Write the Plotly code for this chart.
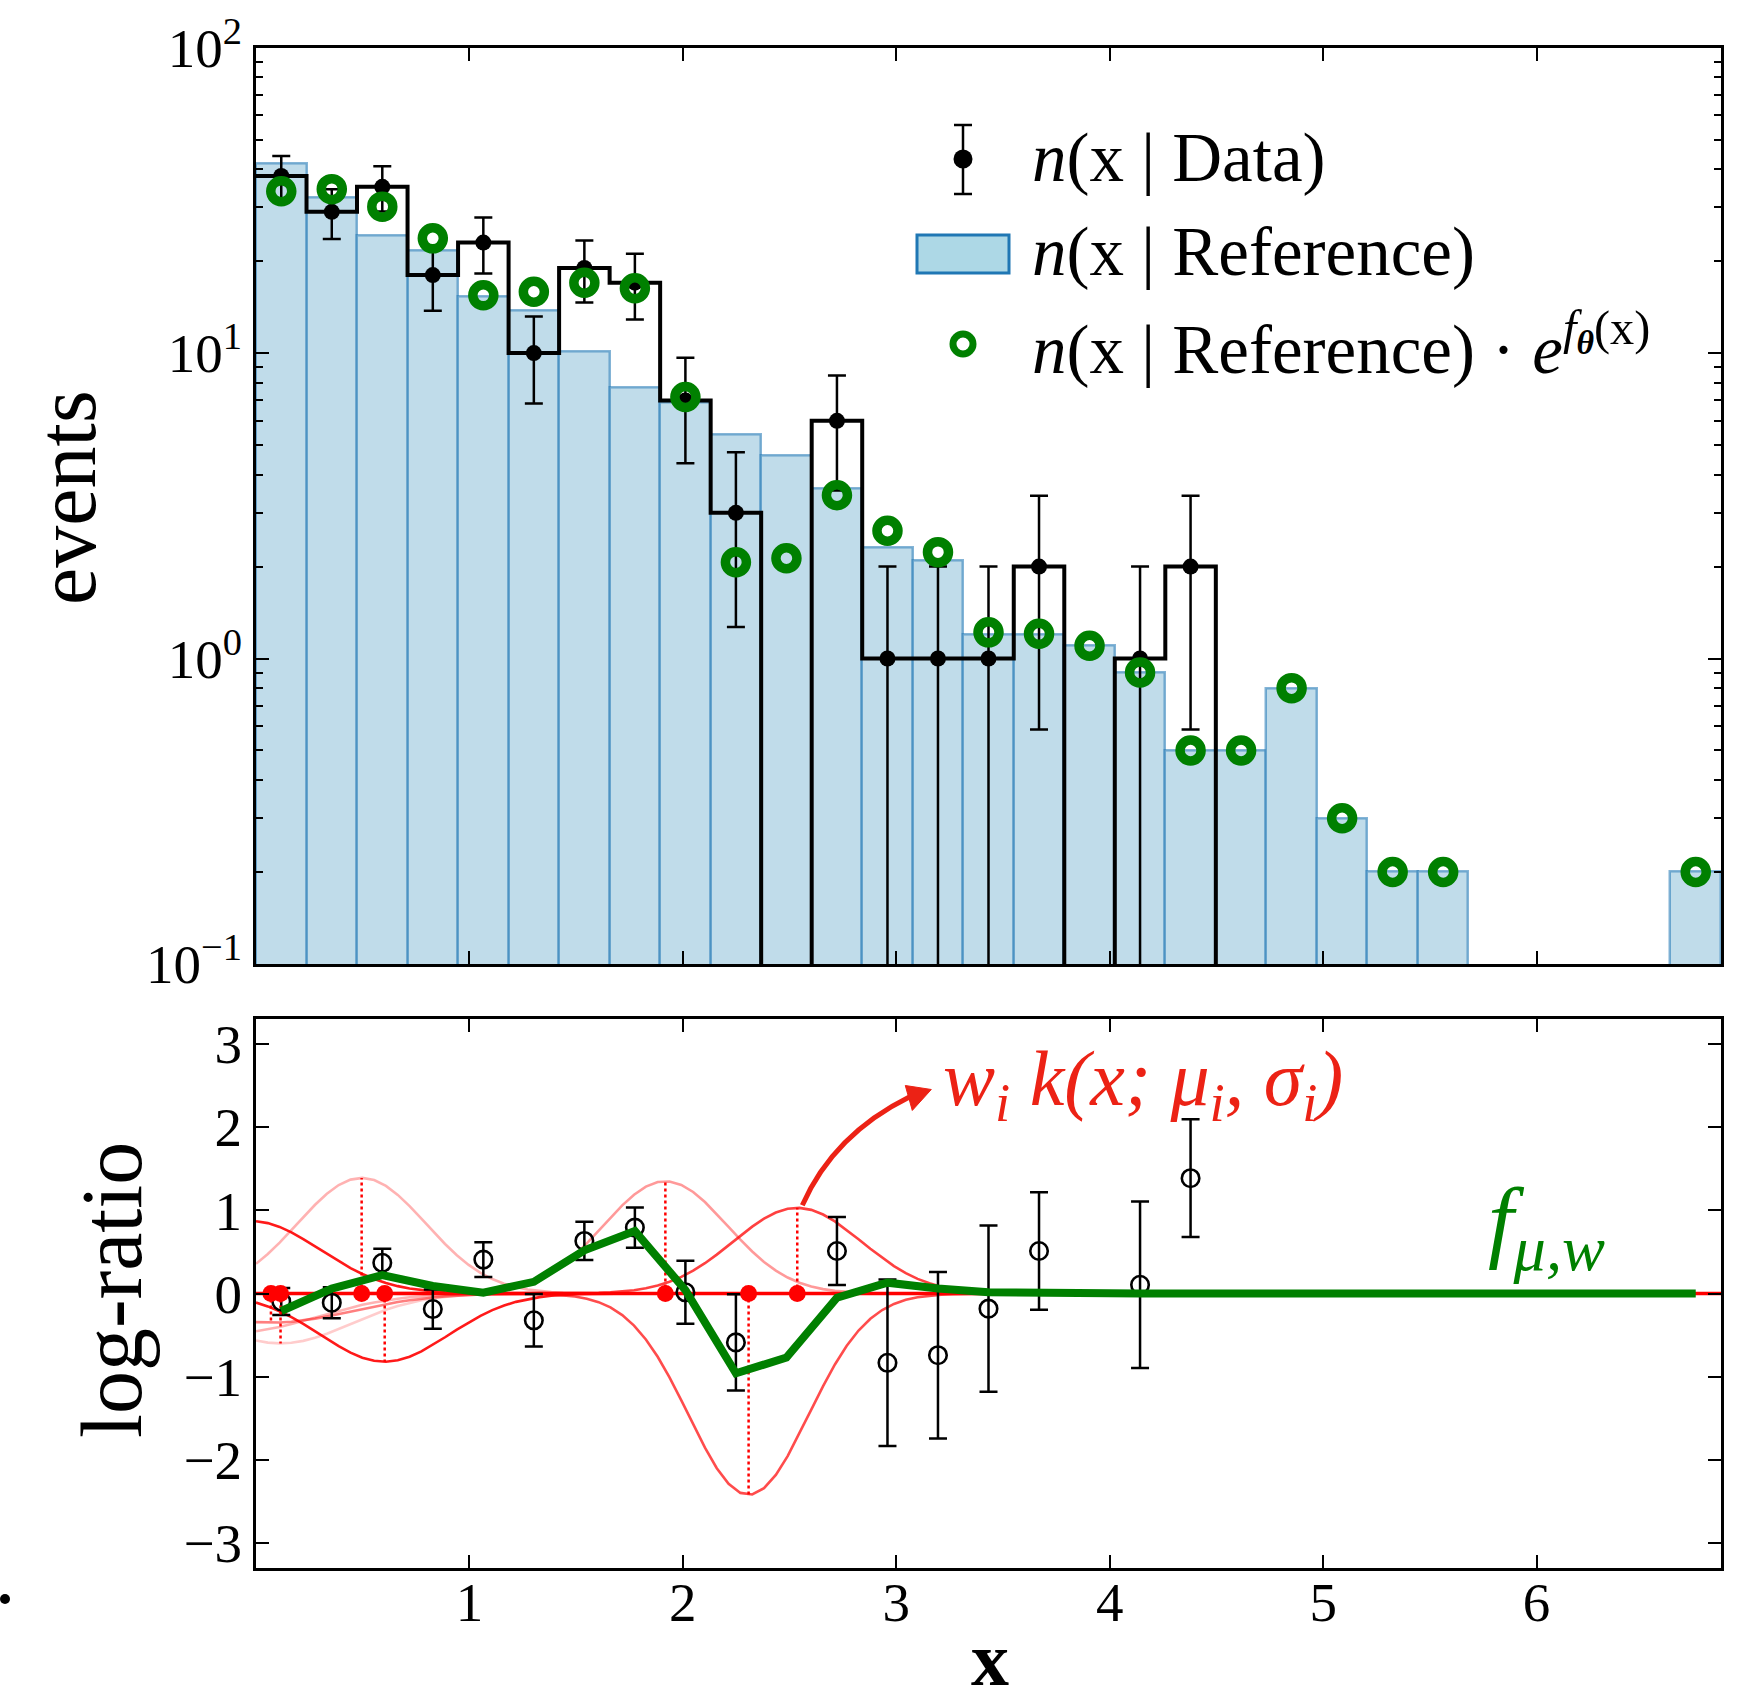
import numpy as np
import plotly.graph_objects as go

W, H = 1737, 1703
FONT = "Liberation Serif"

# ---------------- data ----------------
x_lo, x_hi = 0.0, 6.864
n_bins = 29

data_counts = [38, 29, 35, 18, 23, 10, 19, 17, 7, 3, 0, 6, 1, 1, 1, 2, 0, 1, 2,
               0, 0, 0, 0, 0, 0, 0, 0, 0, 0]
ref_counts = [41.8, 32.4, 24.2, 21.7, 15.3, 13.8, 10.1, 7.7, 6.9, 5.4, 4.6, 3.6,
              2.3, 2.1, 1.2, 1.2, 1.1, 0.9, 0.5, 0.5, 0.8, 0.3, 0.2, 0.2,
              0.0, 0.0, 0.0, 0.0, 0.2]
# learned log-ratio f(x) at the bin centres
f_values = [-0.21, 0.06, 0.22, 0.09, 0.01, 0.14, 0.52, 0.75, 0.04, -0.96, -0.77,
            -0.05, 0.13, 0.06, 0.015, 0.004, 0.001, 0.0, 0.0, 0.0, 0.0, 0.0,
            0.0, 0.0, 0.0, 0.0, 0.0, 0.0, 0.0]

# gaussian kernels w_i k(x; mu_i, sigma_i)
kernel_mu = [-0.02, 0.07, -0.10, 0.115, 0.495, 0.603, 1.918, 2.308, 2.536]
kernel_w = [0.87, -0.35, -0.47, -0.60, 1.39, -0.82, 1.35, -2.42, 1.03]
kernel_sigma = [0.32, 0.38, 0.38, 0.33, 0.30, 0.30, 0.29, 0.28, 0.30]
# drawing opacity of each kernel curve
kernel_alpha = [0.9, 0.5, 0.3, 0.2, 0.3, 0.9, 0.4, 0.7, 0.75]

# ---------------- derived quantities ----------------
edges = np.linspace(x_lo, x_hi, n_bins + 1)
centers = 0.5 * (edges[:-1] + edges[1:])
bin_w = edges[1] - edges[0]
data_counts = np.array(data_counts, float)
ref_counts = np.array(ref_counts, float)
f_values = np.array(f_values, float)

FLOOR = 1e-3  # stands in for empty bins on the log axis (drawn below the frame)

fig = go.Figure()

# ---- upper panel ----
fig.add_trace(go.Bar(
    x=centers, y=[v if v > 0 else None for v in ref_counts], width=bin_w,
    marker=dict(color="#C0DCEA", line=dict(color="rgba(31,119,180,0.55)", width=2.5)),
    xaxis="x", yaxis="y", showlegend=False, hoverinfo="skip"))

step_y = [c if c > 0 else FLOOR for c in data_counts]
fig.add_trace(go.Scatter(
    x=edges, y=step_y + [step_y[-1]], mode="lines",
    line=dict(color="black", width=4, shape="hv"),
    xaxis="x", yaxis="y", showlegend=False, hoverinfo="skip"))

nz = data_counts > 0
n_nz = data_counts[nz]
err_up = np.sqrt(n_nz)
err_dn = np.minimum(np.sqrt(n_nz), n_nz - FLOOR)
fig.add_trace(go.Scatter(
    x=centers[nz], y=n_nz, mode="markers",
    marker=dict(color="black", size=16),
    error_y=dict(type="data", array=err_up, arrayminus=err_dn, color="black",
                 thickness=2.5, width=9),
    xaxis="x", yaxis="y", showlegend=False))

has_ref = ref_counts > 0
fig.add_trace(go.Scatter(
    x=centers[has_ref], y=ref_counts[has_ref] * np.exp(f_values[has_ref]),
    mode="markers",
    marker=dict(symbol="circle-open", size=21, color="#008000", line=dict(width=9.5)),
    xaxis="x", yaxis="y", showlegend=False))

# ---- lower panel ----
xs = np.linspace(x_lo, x_hi, 125)
for mu, w, s, a in zip(kernel_mu, kernel_w, kernel_sigma, kernel_alpha):
    fig.add_trace(go.Scatter(
        x=xs, y=w * np.exp(-0.5 * ((xs - mu) / s) ** 2), mode="lines",
        line=dict(color=f"rgba(255,0,0,{a})", width=2.6),
        xaxis="x2", yaxis="y2", showlegend=False, hoverinfo="skip"))

fig.add_trace(go.Scatter(
    x=[x_lo, x_hi], y=[0, 0], mode="lines", line=dict(color="#FF0000", width=3.5),
    xaxis="x2", yaxis="y2", showlegend=False, hoverinfo="skip"))

both = nz & has_ref
n_b = data_counts[both]
fig.add_trace(go.Scatter(
    x=centers[both], y=np.log(n_b / ref_counts[both]), mode="markers",
    marker=dict(symbol="circle-open", size=17.5, color="black", line=dict(width=2.6)),
    error_y=dict(type="data", array=1 / np.sqrt(n_b), color="black",
                 thickness=2.5, width=9),
    xaxis="x2", yaxis="y2", showlegend=False))

for mu, w in zip(kernel_mu, kernel_w):
    if x_lo <= mu <= x_hi:
        fig.add_trace(go.Scatter(
            x=[mu, mu], y=[0, w], mode="lines",
            line=dict(color="#FF0000", width=2.5, dash="dot"),
            xaxis="x2", yaxis="y2", showlegend=False, hoverinfo="skip"))

mu_in = [m for m in kernel_mu if x_lo <= m <= x_hi]
fig.add_trace(go.Scatter(
    x=mu_in, y=[0] * len(mu_in), mode="markers",
    marker=dict(color="#FF0000", size=17),
    xaxis="x2", yaxis="y2", showlegend=False))

fig.add_trace(go.Scatter(
    x=centers, y=f_values, mode="lines", line=dict(color="#008000", width=8),
    xaxis="x2", yaxis="y2", showlegend=False))

# ---------------- layout ----------------
def px(x):
    return x / W


def py(y):
    return 1 - y / H


xdom = [px(256), px(1721)]
tickfont = dict(family=FONT, size=55, color="black")
axis_common = dict(showline=True, linecolor="black", linewidth=3, mirror="allticks",
                   ticks="inside", ticklen=13, tickwidth=2, tickcolor="black",
                   showgrid=False, zeroline=False, tickfont=tickfont, automargin=False)

log_minor = [m * 10.0 ** e for e in (-1, 0, 1) for m in range(2, 10)]

fig.update_layout(
    width=W, height=H, autosize=False, paper_bgcolor="white", plot_bgcolor="white",
    margin=dict(l=0, r=0, t=0, b=0, pad=0, autoexpand=False), bargap=0, showlegend=False,
    font=dict(family=FONT, color="black"),
    xaxis=dict(domain=xdom, range=[x_lo, x_hi], anchor="y", tickvals=[1, 2, 3, 4, 5, 6],
               showticklabels=False, **axis_common),
    yaxis=dict(domain=[py(964), py(47.6)], type="log", range=[-1, 2], anchor="x",
               tickvals=[0.1, 1, 10, 100],
               ticktext=["10<sup>−1</sup>", "10<sup>0</sup>", "10<sup>1</sup>", "10<sup>2</sup>"],
               minor=dict(tickvals=log_minor, ticks="inside", ticklen=7, tickwidth=1.5,
                          tickcolor="black"),
               **axis_common),
    xaxis2=dict(domain=xdom, range=[x_lo, x_hi], anchor="y2", tickvals=[1, 2, 3, 4, 5, 6],
                ticklabelstandoff=-16, **axis_common),
    yaxis2=dict(domain=[py(1568), py(1019)], range=[-3.3, 3.3], anchor="x2",
                tickvals=[-3, -2, -1, 0, 1, 2, 3], **axis_common),
)


def label(x, y, text, size, color="black", angle=0, xanchor="center"):
    return dict(x=px(x), y=py(y), xref="paper", yref="paper", text=text,
                textangle=angle, showarrow=False, xanchor=xanchor, yanchor="middle",
                font=dict(family=FONT, size=size, color=color))


ann = [
    # axis titles
    label(66, 498, "events", 84, angle=-90),
    label(112, 1290, "log-ratio", 86, angle=-90),
    label(990, 1659, "<b>x</b>", 76),
    # legend texts
    label(1030, 158, "<i>n</i>(x | Data)", 69, xanchor="left"),
    label(1030, 252, "<i>n</i>(x | Reference)", 69, xanchor="left"),
    label(1030, 345,
          "<i>n</i>(x | Reference) · <i>e</i><sup><i>f</i><sub><b><i>θ</i></b></sub>(x)</sup>",
          69, xanchor="left"),
    # kernel and f labels
    label(941, 1084,
          "<i>w<sub>i</sub> k(x; μ<sub>i</sub>, σ<sub>i</sub>)</i>",
          78, color="#EC2215", xanchor="left"),
    label(1546, 1226, "<i>f<sub>μ,w</sub></i>", 92, color="#008000"),
]
fig.update_layout(annotations=ann)

shapes = []
# legend glyph: data point with error bar
shapes.append(dict(type="line", xref="paper", yref="paper", x0=px(963), x1=px(963),
                   y0=py(125), y1=py(194), line=dict(color="black", width=2.5)))
for yy in (125, 194):
    shapes.append(dict(type="line", xref="paper", yref="paper", x0=px(954), x1=px(972),
                       y0=py(yy), y1=py(yy), line=dict(color="black", width=2.5)))
shapes.append(dict(type="circle", xref="paper", yref="paper", x0=px(953.5), x1=px(972.5),
                   y0=py(168.5), y1=py(149.5), fillcolor="black", line=dict(width=0)))
# legend glyph: reference patch
shapes.append(dict(type="rect", xref="paper", yref="paper", x0=px(917), x1=px(1009),
                   y0=py(273), y1=py(235), fillcolor="#ADD8E6",
                   line=dict(color="#1f77b4", width=3)))
# legend glyph: reweighted reference ring
shapes.append(dict(type="circle", xref="paper", yref="paper", x0=px(953), x1=px(973),
                   y0=py(354), y1=py(334), fillcolor="rgba(0,0,0,0)",
                   line=dict(color="#008000", width=7)))


# curved arrow pointing at the kernel label (lower-panel data coordinates)
def dx(p):
    return (p - 255.5) / 213.5


def dy(p):
    return (1293.3 - p) / 83.3


shapes.append(dict(type="path", xref="x2", yref="y2",
                   path=f"M {dx(802)},{dy(1205)} Q {dx(833)},{dy(1134)} {dx(910)},{dy(1096)}",
                   line=dict(color="#EC2215", width=5), fillcolor="rgba(0,0,0,0)"))
shapes.append(dict(type="path", xref="x2", yref="y2",
                   path=(f"M {dx(931)},{dy(1089)} L {dx(905)},{dy(1085)} "
                         f"L {dx(912)},{dy(1110)} Z"),
                   line=dict(color="#EC2215", width=1), fillcolor="#EC2215"))
# stray mark at the lower left of the page
shapes.append(dict(type="circle", xref="paper", yref="paper", x0=px(0), x1=px(10),
                   y0=py(1604), y1=py(1594), fillcolor="black", line=dict(width=0)))
fig.update_layout(shapes=shapes)

fig.write_html("out.html")
